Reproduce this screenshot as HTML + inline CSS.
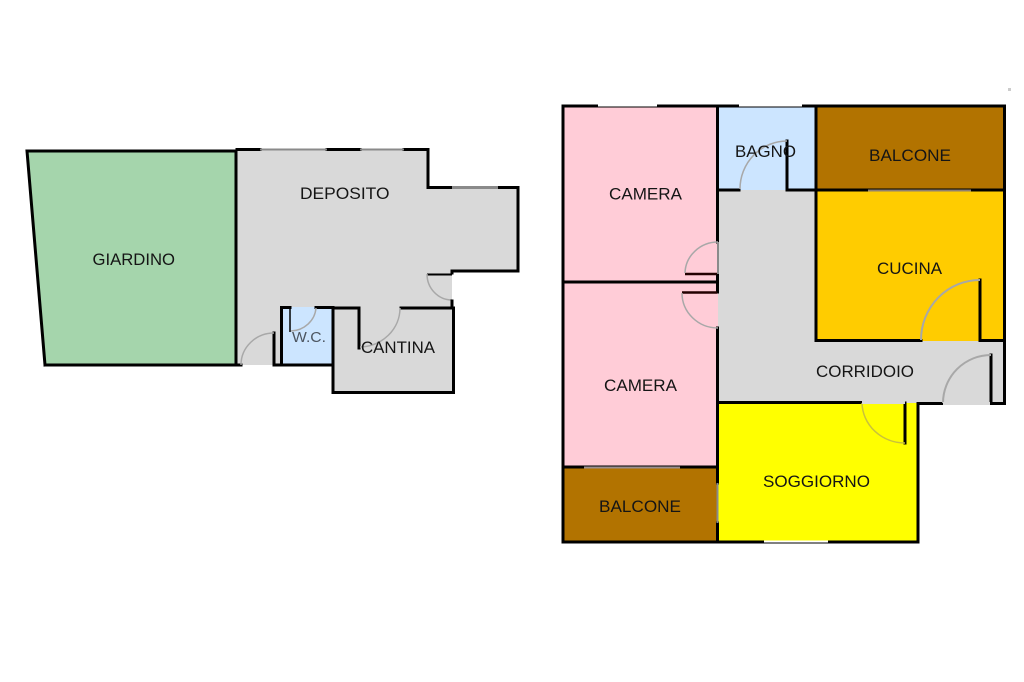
<!DOCTYPE html>
<html><head><meta charset="utf-8"><style>
html,body{margin:0;padding:0;background:#fff}
svg{display:block;filter:blur(0.35px)}
text{font-family:"Liberation Sans",Arial,sans-serif;font-size:17px;fill:#151515}
.w{stroke:#000;stroke-width:3;fill:none;stroke-linecap:square}
.t{stroke:#000;stroke-width:2;fill:none}
.a{stroke:#a8a8a8;stroke-width:1.5;fill:none}
.g{stroke:#8a8a8a;stroke-width:2;fill:none}
.h{stroke:#fff;stroke-width:2;fill:none}
</style></head><body>
<svg width="1024" height="682" viewBox="0 0 1024 682" xmlns="http://www.w3.org/2000/svg">
<rect width="1024" height="682" fill="#fff"/>
<rect x="1008" y="88" width="3" height="3" fill="#ccc"/>

<!-- left plan fills -->
<polygon points="27,151 237,151 237,365 45,365" fill="#a5d5ac"/>
<polygon points="237,150 428,150 428,188 518,188 518,271 452,271 452,308 453,392 334,392 334,365 237,365" fill="#d9d9d9"/>
<rect x="282" y="307" width="51" height="58" fill="#cce5ff"/>

<!-- left plan walls -->
<path class="w" d="M45,365 L27,151 L236,151 M236,151 V365 M45,365 H241"/>
<path class="w" d="M237,149.500 H260 M327,149.500 H360 M404,149.500 H428 V187.500 H452 M498,187.500 H518 V271 H452"/>
<path class="g" d="M260,149.500 H327 M360,149.500 H404"/>
<path class="g" style="stroke-width:3" d="M452,187.500 H498"/>
<path class="w" d="M452,271 V273"/>
<path class="t" d="M427,274.500 H452"/>
<path class="a" d="M427,274 A25,26 0 0 0 452,300"/>
<path class="w" d="M452,301 V307"/>
<path class="w" d="M274,333 V365 H333"/>
<path class="a" d="M241,365 A33,32 0 0 1 274,333"/>
<path class="w" d="M281.500,365 V307.500 H290 M316,307.500 H333 V392.500 H453.500 V308 H401 M333,308 H359 V348"/>
<path class="t" style="stroke-width:1.500" d="M290,307 V332"/>
<path class="a" d="M291,331 A26,25 0 0 0 316,308"/>
<path class="a" d="M360,347 A41,39 0 0 0 400,308"/>

<text x="92.500" y="265" textLength="82.500" lengthAdjust="spacingAndGlyphs">GIARDINO</text>
<text x="300" y="199" textLength="89.500" lengthAdjust="spacingAndGlyphs">DEPOSITO</text>
<text x="292" y="342" textLength="34" lengthAdjust="spacingAndGlyphs" style="font-size:15px;fill:#4c5560">W.C.</text>
<text x="361" y="353" textLength="74" lengthAdjust="spacingAndGlyphs">CANTINA</text>

<!-- right plan fills -->
<rect x="563" y="106" width="155" height="361" fill="#ffccd7"/>
<rect x="718" y="106" width="98" height="84" fill="#cce5ff"/>
<rect x="816" y="106" width="189" height="84" fill="#b27300"/>
<rect x="816" y="190" width="189" height="151" fill="#ffcc00"/>
<polygon points="718,190 816,190 816,341 1005,341 1005,404 918,404 918,403 718,403" fill="#d9d9d9"/>
<rect x="718" y="403" width="200" height="138" fill="#ffff00"/>
<rect x="563" y="467" width="155" height="75" fill="#b27300"/>

<!-- right plan walls -->
<path class="w" d="M563,106 H1004.500 V403.500 H991 V355 M563,106 V542 H718"/>
<path class="w" d="M717.500,106 V242 M717.500,275 V292 M717.500,328 V483 M717.500,523 V542 H918 V403.500 H943"/>
<path class="w" d="M816,106 V340.500 H921 M980,280 V340.500 H1004"/>
<path class="w" d="M563,282 H717 M718,190 H739 M787,141 V190 H1004"/>
<path class="w" d="M563,467 H717 M718,402.500 H862 M905,403 V443"/>
<path class="t" style="stroke-width:2.500;stroke:#200" d="M685,274 H717 M682,292.500 H717"/>
<path class="g" d="M718,242 V274 M717.500,483 V523"/>
<path class="a" d="M718,242 A33,32 0 0 0 685,273"/>
<path class="a" d="M682,293 A36,35 0 0 0 718,328"/>
<path class="a" d="M740,189 A47,48 0 0 1 787,141"/>
<path class="a" style="stroke-width:2" d="M921,340 A59,60 0 0 1 980,280"/>
<path class="a" style="stroke-width:2" d="M943,403 A48,48 0 0 1 991,355"/>
<path style="fill:none;stroke:#c9c23a;stroke-width:1.500" d="M862,403 A43,41 0 0 0 905,443"/>

<!-- windows -->
<path class="h" d="M598,105.500 H657 M739,105.500 H802 M764,541.500 H828"/>
<path style="fill:none;stroke:#8f7f70;stroke-width:2" d="M868,190.500 H971"/>
<path style="fill:none;stroke:#9a8f8f;stroke-width:2" d="M584,467.500 H680"/>
<rect x="862" y="401" width="43" height="3" fill="#d9d9d9"/>
<rect x="943" y="402" width="47" height="3" fill="#d9d9d9"/>

<text x="609" y="199.500" textLength="73" lengthAdjust="spacingAndGlyphs">CAMERA</text>
<text x="735" y="157" textLength="61" lengthAdjust="spacingAndGlyphs">BAGNO</text>
<text x="869" y="161" textLength="82" lengthAdjust="spacingAndGlyphs">BALCONE</text>
<text x="877" y="274" textLength="65" lengthAdjust="spacingAndGlyphs">CUCINA</text>
<text x="816" y="377" textLength="98" lengthAdjust="spacingAndGlyphs">CORRIDOIO</text>
<text x="604" y="391" textLength="73" lengthAdjust="spacingAndGlyphs">CAMERA</text>
<text x="763" y="487" textLength="107" lengthAdjust="spacingAndGlyphs">SOGGIORNO</text>
<text x="599" y="512" textLength="82" lengthAdjust="spacingAndGlyphs">BALCONE</text>
</svg>
</body></html>
